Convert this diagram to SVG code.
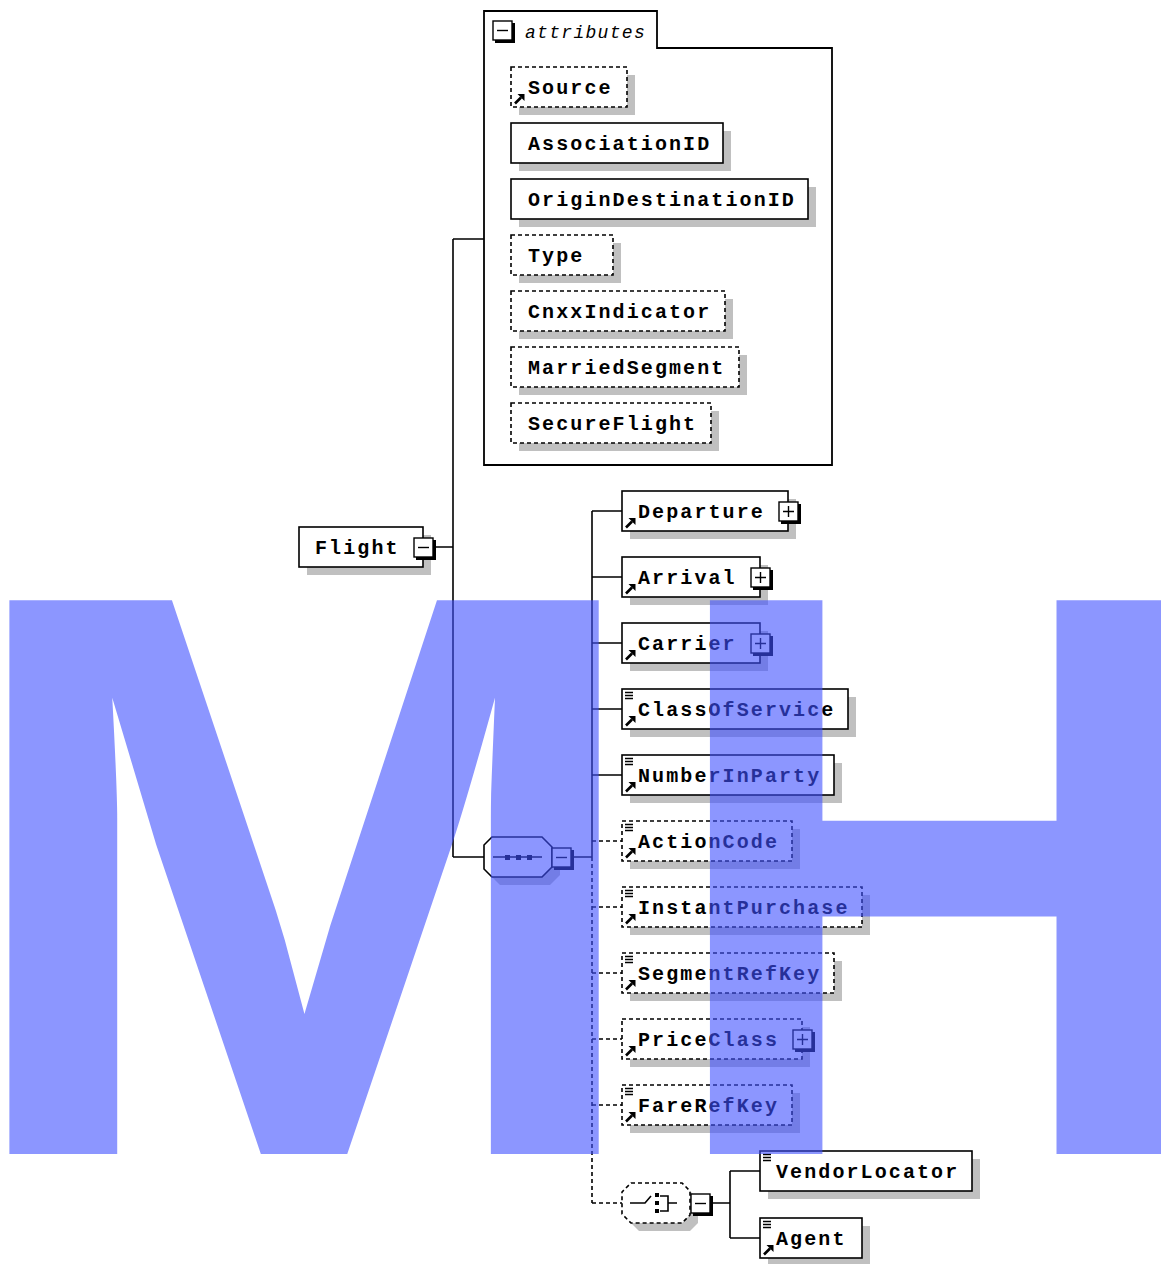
<svg xmlns="http://www.w3.org/2000/svg" xmlns:xlink="http://www.w3.org/1999/xlink" width="1161" height="1264" viewBox="0 0 1161 1264">
<style>
.bg{fill:#ffffff}
.box{fill:#ffffff;stroke:#000;stroke-width:1.6}
.dbox{fill:#ffffff;stroke:#000;stroke-width:1.6;stroke-dasharray:4 3}
.sh{fill:#c0c0c0}
.lbl{font-family:"Liberation Mono","DejaVu Sans Mono",monospace;font-weight:bold;font-size:20px;letter-spacing:2.1px;fill:#000}
.attr{font-family:"Liberation Mono","DejaVu Sans Mono",monospace;font-style:italic;font-size:18px;letter-spacing:1.3px;fill:#000}
.ln{fill:none;stroke:#000;stroke-width:1.6}
.dl{fill:none;stroke:#000;stroke-width:1.6;stroke-dasharray:4 3}
.wm{font-family:"Liberation Sans",Arial,sans-serif;font-weight:bold;font-size:805px;fill:#4050ff;fill-opacity:0.6}
</style>
<defs>
<g id="arrow">
<path d="M4,36.5 L10,30.5" stroke="#000" stroke-width="2.6" fill="none"/>
<path d="M6.5,27 L13.5,27 L13.5,34 Z" fill="#000"/>
</g>
<g id="lines">
<path d="M3,3.5 H11 M3,6.5 H11 M3,9.5 H11" stroke="#000" stroke-width="1.3" fill="none"/>
</g>
<g id="plus">
<rect x="-8" y="-8" width="20" height="20" fill="#000"/>
<rect x="-10" y="-10" width="19" height="19" fill="#fff" stroke="#000" stroke-width="1.4"/>
<path d="M-6,-0.5 H5 M-0.5,-6 V5" stroke="#000" stroke-width="1.4"/>
</g>
<g id="minus">
<rect x="-8" y="-8" width="20" height="20" fill="#000"/>
<rect x="-10" y="-10" width="19" height="19" fill="#fff" stroke="#000" stroke-width="1.4"/>
<path d="M-6,-0.5 H5" stroke="#000" stroke-width="1.4"/>
</g>
</defs>
<rect class="bg" x="0" y="0" width="1161" height="1264"/>

<g id="connectors">
<path class="ln" d="M434,547 H453 M453,239 V857 M453,239 H484 M453,857 H484"/>
<path class="ln" d="M572,857 H592 M592,511 V857"/>
<path class="dl" d="M592,857 V1203"/>
<path class="ln" d="M592,511 H622 M592,577 H622 M592,643 H622 M592,709 H622 M592,775 H622"/>
<path class="dl" d="M592,841 H622 M592,907 H622 M592,973 H622 M592,1039 H622 M592,1105 H622 M592,1203 H622"/>
<path class="ln" d="M712,1203 H730 M730,1171 V1238 M730,1171 H760 M730,1238 H760"/>
</g>

<g id="attributes">
<path d="M484,11 H657 V48 H832 V465 H484 Z" fill="#fff" stroke="#000" stroke-width="1.8"/>
<use xlink:href="#minus" href="#minus" x="503" y="31"/>
<text class="attr" x="525" y="38">attributes</text>
</g>

<g id="attr-Source">
<rect class="sh" x="519" y="75" width="116" height="40"/>
<rect class="dbox" x="511" y="67" width="116" height="40"/>
<use href="#arrow" xlink:href="#arrow" x="511" y="67"/>
<text class="lbl" x="528" y="94">Source</text>
</g>
<g id="attr-AssociationID">
<rect class="sh" x="519" y="131" width="212" height="40"/>
<rect class="box" x="511" y="123" width="212" height="40"/>
<text class="lbl" x="528" y="150">AssociationID</text>
</g>
<g id="attr-OriginDestinationID">
<rect class="sh" x="519" y="187" width="297" height="40"/>
<rect class="box" x="511" y="179" width="297" height="40"/>
<text class="lbl" x="528" y="206">OriginDestinationID</text>
</g>
<g id="attr-Type">
<rect class="sh" x="519" y="243" width="102" height="40"/>
<rect class="dbox" x="511" y="235" width="102" height="40"/>
<text class="lbl" x="528" y="262">Type</text>
</g>
<g id="attr-CnxxIndicator">
<rect class="sh" x="519" y="299" width="214" height="40"/>
<rect class="dbox" x="511" y="291" width="214" height="40"/>
<text class="lbl" x="528" y="318">CnxxIndicator</text>
</g>
<g id="attr-MarriedSegment">
<rect class="sh" x="519" y="355" width="228" height="40"/>
<rect class="dbox" x="511" y="347" width="228" height="40"/>
<text class="lbl" x="528" y="374">MarriedSegment</text>
</g>
<g id="attr-SecureFlight">
<rect class="sh" x="519" y="411" width="200" height="40"/>
<rect class="dbox" x="511" y="403" width="200" height="40"/>
<text class="lbl" x="528" y="430">SecureFlight</text>
</g>

<g id="Flight">
<rect class="sh" x="307" y="535" width="124" height="40"/>
<rect class="box" x="299" y="527" width="124" height="40"/>
<text class="lbl" x="315" y="554">Flight</text>
<use href="#minus" xlink:href="#minus" x="424" y="548"/>
</g>

<g id="sequence">
<polygon class="sh" points="500,845 550,845 560,855 560,875 550,885 500,885 492,877 492,853"/>
<polygon points="492,837 542,837 552,847 552,867 542,877 492,877 484,869 484,845" fill="#fff" stroke="#000" stroke-width="1.6"/>
<path d="M493,857 H542" stroke="#000" stroke-width="1.6"/>
<rect x="505" y="855" width="5" height="5" fill="#000"/>
<rect x="516" y="855" width="5" height="5" fill="#000"/>
<rect x="527" y="855" width="5" height="5" fill="#000"/>
<use href="#minus" xlink:href="#minus" x="562" y="858"/>
</g>

<g id="Departure">
<rect class="sh" x="630" y="499" width="166" height="40"/>
<rect class="box" x="622" y="491" width="166" height="40"/>
<use href="#arrow" xlink:href="#arrow" x="622" y="491"/>
<text class="lbl" x="638" y="518">Departure</text>
<use href="#plus" xlink:href="#plus" x="789" y="512"/>
</g>
<g id="Arrival">
<rect class="sh" x="630" y="565" width="138" height="40"/>
<rect class="box" x="622" y="557" width="138" height="40"/>
<use href="#arrow" xlink:href="#arrow" x="622" y="557"/>
<text class="lbl" x="638" y="584">Arrival</text>
<use href="#plus" xlink:href="#plus" x="761" y="578"/>
</g>
<g id="Carrier">
<rect class="sh" x="630" y="631" width="138" height="40"/>
<rect class="box" x="622" y="623" width="138" height="40"/>
<use href="#arrow" xlink:href="#arrow" x="622" y="623"/>
<text class="lbl" x="638" y="650">Carrier</text>
<use href="#plus" xlink:href="#plus" x="761" y="644"/>
</g>
<g id="ClassOfService">
<rect class="sh" x="630" y="697" width="226" height="40"/>
<rect class="box" x="622" y="689" width="226" height="40"/>
<use href="#lines" xlink:href="#lines" x="622" y="689"/>
<use href="#arrow" xlink:href="#arrow" x="622" y="689"/>
<text class="lbl" x="638" y="716">ClassOfService</text>
</g>
<g id="NumberInParty">
<rect class="sh" x="630" y="763" width="212" height="40"/>
<rect class="box" x="622" y="755" width="212" height="40"/>
<use href="#lines" xlink:href="#lines" x="622" y="755"/>
<use href="#arrow" xlink:href="#arrow" x="622" y="755"/>
<text class="lbl" x="638" y="782">NumberInParty</text>
</g>
<g id="ActionCode">
<rect class="sh" x="630" y="829" width="170" height="40"/>
<rect class="dbox" x="622" y="821" width="170" height="40"/>
<use href="#lines" xlink:href="#lines" x="622" y="821"/>
<use href="#arrow" xlink:href="#arrow" x="622" y="821"/>
<text class="lbl" x="638" y="848">ActionCode</text>
</g>
<g id="InstantPurchase">
<rect class="sh" x="630" y="895" width="240" height="40"/>
<rect class="dbox" x="622" y="887" width="240" height="40"/>
<use href="#lines" xlink:href="#lines" x="622" y="887"/>
<use href="#arrow" xlink:href="#arrow" x="622" y="887"/>
<text class="lbl" x="638" y="914">InstantPurchase</text>
</g>
<g id="SegmentRefKey">
<rect class="sh" x="630" y="961" width="212" height="40"/>
<rect class="dbox" x="622" y="953" width="212" height="40"/>
<use href="#lines" xlink:href="#lines" x="622" y="953"/>
<use href="#arrow" xlink:href="#arrow" x="622" y="953"/>
<text class="lbl" x="638" y="980">SegmentRefKey</text>
</g>
<g id="PriceClass">
<rect class="sh" x="630" y="1027" width="180" height="40"/>
<rect class="dbox" x="622" y="1019" width="180" height="40"/>
<use href="#arrow" xlink:href="#arrow" x="622" y="1019"/>
<text class="lbl" x="638" y="1046">PriceClass</text>
<use href="#plus" xlink:href="#plus" x="803" y="1040"/>
</g>
<g id="FareRefKey">
<rect class="sh" x="630" y="1093" width="170" height="40"/>
<rect class="dbox" x="622" y="1085" width="170" height="40"/>
<use href="#lines" xlink:href="#lines" x="622" y="1085"/>
<use href="#arrow" xlink:href="#arrow" x="622" y="1085"/>
<text class="lbl" x="638" y="1112">FareRefKey</text>
</g>

<g id="choice">
<polygon class="sh" points="639,1191 690,1191 698,1199 698,1223 690,1231 639,1231 630,1222 630,1200"/>
<polygon points="631,1183 682,1183 690,1191 690,1215 682,1223 631,1223 622,1214 622,1192" fill="#fff" stroke="#000" stroke-width="1.6" stroke-dasharray="4 3"/>
<path d="M630,1203 H645 L651,1196 M660,1196 H668 V1211 H660 M668,1203 H677" fill="none" stroke="#000" stroke-width="1.6"/>
<rect x="655" y="1193" width="4" height="4" fill="#000"/>
<rect x="655" y="1201" width="4" height="4" fill="#000"/>
<rect x="655" y="1209" width="4" height="4" fill="#000"/>
<use href="#minus" xlink:href="#minus" x="701" y="1204"/>
</g>

<g id="VendorLocator">
<rect class="sh" x="768" y="1159" width="212" height="40"/>
<rect class="box" x="760" y="1151" width="212" height="40"/>
<use href="#lines" xlink:href="#lines" x="760" y="1151"/>
<text class="lbl" x="776" y="1178">VendorLocator</text>
</g>
<g id="Agent">
<rect class="sh" x="768" y="1226" width="102" height="40"/>
<rect class="box" x="760" y="1218" width="102" height="40"/>
<use href="#lines" xlink:href="#lines" x="760" y="1218"/>
<use href="#arrow" xlink:href="#arrow" x="760" y="1218"/>
<text class="lbl" x="776" y="1245">Agent</text>
</g>

<g id="watermark">
<text class="wm" transform="translate(-47,1154) scale(1.047,1)" x="0" y="0">M</text>
<text class="wm" transform="translate(657.7,1154) scale(0.97,1)" x="0" y="0">H</text>
</g>
</svg>
